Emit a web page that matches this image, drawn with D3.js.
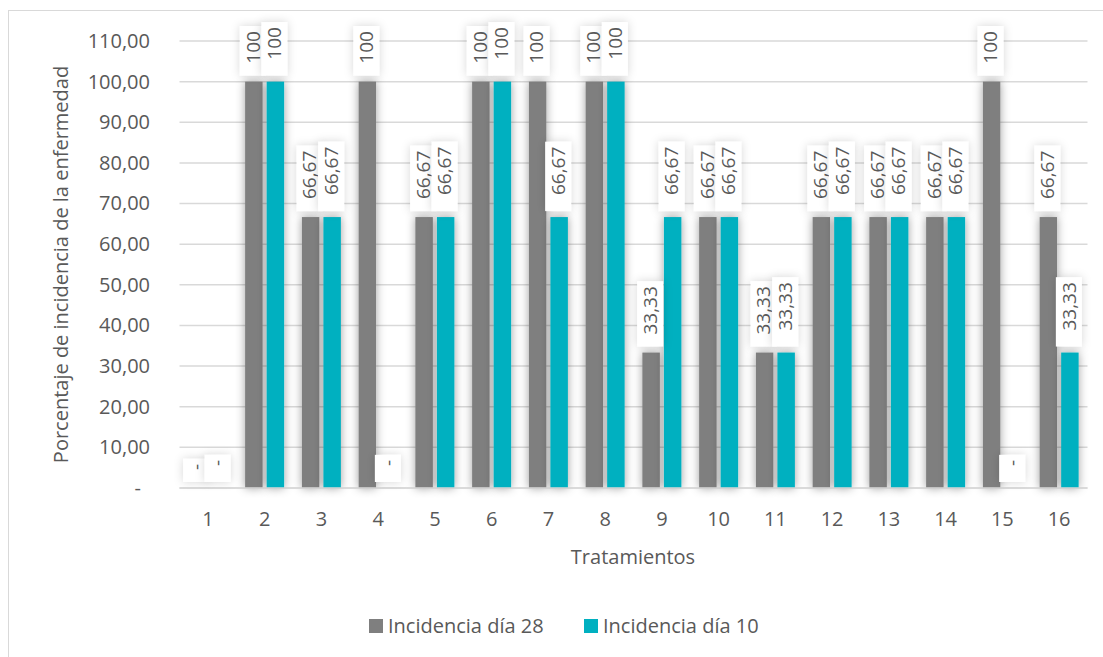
<!DOCTYPE html>
<html>
<head>
<meta charset="utf-8">
<script src="https://cdn.jsdelivr.net/npm/d3@7"></script>
<style>
  body { margin: 0; background: #fff; }
  svg { display: block; font-family: "Open Sans", sans-serif; }
</style>
</head>
<body>
<div id="chart"></div>
<script>
// data
var tratamientos = ['1','2','3','4','5','6','7','8','9','10','11','12','13','14','15','16'];
var dia28 = [0, 100, 66.67, 100, 66.67, 100, 100, 100, 33.33, 66.67, 33.33, 66.67, 66.67, 66.67, 100, 66.67];
var dia10 = [0, 100, 66.67, 0, 66.67, 100, 66.67, 100, 66.67, 66.67, 33.33, 66.67, 66.67, 66.67, 0, 33.33];
var seriesNames = ['Incidencia día 28', 'Incidencia día 10'];
var seriesColors = ['#7f7f7f', '#00b0c0'];
var yTicks = [0, 10, 20, 30, 40, 50, 60, 70, 80, 90, 100, 110];

var W = 1103, H = 657;
var plotLeft = 179.5, plotRight = 1087.5, plotTop = 41, plotBottom = 488;
var textColor = '#595959';

var svg = d3.select('#chart').append('svg')
	.attr('width', W)
	.attr('height', H);

// soft shadows like the excel glow
var defs = svg.append('defs');
function shadow(id, sd, op) {
	var f = defs.append('filter')
		.attr('id', id)
		.attr('x', '-150%').attr('y', '-40%')
		.attr('width', '400%').attr('height', '180%');
	f.append('feDropShadow')
		.attr('dx', 0).attr('dy', 0)
		.attr('stdDeviation', sd)
		.attr('flood-color', '#000')
		.attr('flood-opacity', op);
}
shadow('shadow', 5, 0.38);
shadow('boxshadow', 5, 0.16);

// outer border
svg.append('rect')
	.attr('x', 8.5).attr('y', 10.5)
	.attr('width', W).attr('height', H)
	.attr('fill', 'none')
	.attr('stroke', '#d9d9d9')
	.attr('stroke-width', 1);

var x0 = d3.scaleBand().domain(tratamientos).range([plotLeft, plotRight]).padding(0);
var x1 = d3.scaleBand().domain([0, 1])
	.range([x0.bandwidth() / 2 - 19.5, x0.bandwidth() / 2 + 19.5])
	.paddingInner(0.19);
var y = d3.scaleLinear().domain([0, 110]).range([plotBottom, plotTop]);

// gridlines
svg.append('g').selectAll('line')
	.data(yTicks)
	.enter().append('line')
	.attr('x1', plotLeft).attr('x2', plotRight)
	.attr('y1', function(d) { return y(d); })
	.attr('y2', function(d) { return y(d); })
	.attr('stroke', '#d9d9d9')
	.attr('stroke-width', 1.5);

// y axis labels
var yAxis = d3.axisLeft(y)
	.tickValues(yTicks)
	.tickSize(0)
	.tickPadding(0)
	.tickFormat(function(d) {
		return d === 0 ? '-' : d3.format('.2f')(d).replace('.', ',');
	});
var gy = svg.append('g').attr('transform', 'translate(150,0)').call(yAxis);
gy.select('.domain').remove();
gy.selectAll('text')
	.attr('fill', textColor)
	.style('font-size', '20px')
	.style('font-family', '"Open Sans", sans-serif')
	.attr('dx', function(d) { return d === 0 ? -9 : 0; });

// x axis labels
var xAxis = d3.axisBottom(x0).tickSize(0).tickPadding(0);
var gx = svg.append('g').attr('transform', 'translate(0,' + plotBottom + ')').call(xAxis);
gx.select('.domain').remove();
gx.selectAll('text')
	.attr('fill', textColor)
	.attr('dy', 0)
	.attr('y', 38)
	.style('font-size', '20px')
	.style('font-family', '"Open Sans", sans-serif');

var series = [dia28, dia10];

// bars
series.forEach(function(vals, s) {
	svg.append('g').selectAll('rect')
		.data(vals.map(function(v, i) { return { k: tratamientos[i], v: v }; }).filter(function(d) { return d.v > 0; }))
		.enter().append('rect')
		.attr('x', function(d) { return x0(d.k) + x1(s); })
		.attr('y', function(d) { return y(d.v); })
		.attr('width', x1.bandwidth())
		.attr('height', function(d) { return y(0) - y(d.v); })
		.attr('fill', seriesColors[s])
		.attr('filter', 'url(#shadow)');
});

// axis line
svg.append('line')
	.attr('x1', plotLeft).attr('x2', plotRight)
	.attr('y1', plotBottom).attr('y2', plotBottom)
	.attr('stroke', '#d9d9d9')
	.attr('stroke-width', 1.5);

// data labels
var labelOffset = [18, 22];
series.forEach(function(vals, s) {
	var g = svg.append('g');
	vals.forEach(function(v, i) {
		var cx = x0(tratamientos[i]) + x1(s) + x1.bandwidth() / 2 - 1;
		var y0 = y(v) - labelOffset[s];
		var txt = v === 0 ? '-' : (v === 100 ? '100' : d3.format('.2f')(v).replace('.', ','));
		var box = g.append('rect').attr('fill', '#fff').attr('filter', 'url(#boxshadow)');
		var t = g.append('text')
			.attr('transform', 'translate(' + cx + ',' + y0 + ') rotate(-90)')
			.attr('dy', '0.35em')
			.attr('fill', textColor)
			.style('font-size', '19px')
			.text(txt);
		var len = t.node().getComputedTextLength();
		box.attr('x', cx - 13).attr('width', 26)
			.attr('y', y0 - len - 5)
			.attr('height', len + 5 + labelOffset[s] - 6);
	});
});

// axis titles
svg.append('text')
	.attr('transform', 'translate(68,' + ((plotTop + plotBottom) / 2) + ') rotate(-90)')
	.attr('text-anchor', 'middle')
	.attr('fill', textColor)
	.style('font-size', '20px')
	.text('Porcentaje de incidencia de la enfermedad');

svg.append('text')
	.attr('x', 633).attr('y', 564)
	.attr('text-anchor', 'middle')
	.attr('fill', textColor)
	.style('font-size', '20px')
	.text('Tratamientos');

// legend
var legendX = [369, 584];
var lg = svg.append('g');
seriesNames.forEach(function(name, s) {
	lg.append('rect')
		.attr('x', legendX[s]).attr('y', 619)
		.attr('width', 14).attr('height', 14)
		.attr('fill', seriesColors[s]);
	lg.append('text')
		.attr('x', legendX[s] + 19).attr('y', 633)
		.attr('fill', textColor)
		.style('font-size', '20px')
		.text(name);
});
</script>
</body>
</html>
